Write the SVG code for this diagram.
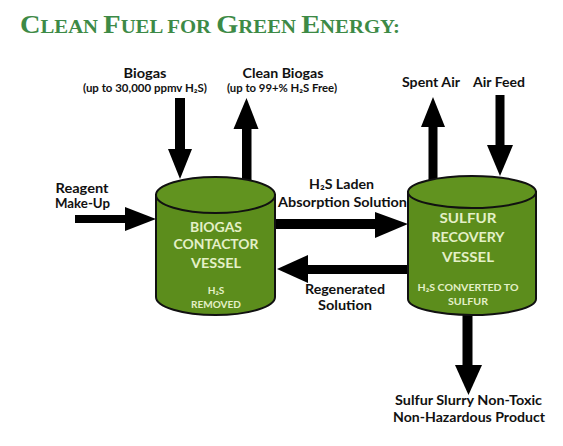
<svg xmlns="http://www.w3.org/2000/svg" width="563" height="446" viewBox="0 0 563 446">
<style>
.lbl{font-family:Lato,"Open Sans","DejaVu Sans",sans-serif;font-weight:700;fill:#111;text-anchor:middle}
.big{font-size:12.5px}
.sm{font-size:10.5px}
.cyl{fill:#5c8d1c;stroke:#111;stroke-width:2}
.top{fill:#61931f;stroke:#111;stroke-width:2}
.vt{font-family:Lato,"Open Sans","DejaVu Sans",sans-serif;font-weight:700;fill:#e4f0c8;text-anchor:middle}
.vb{font-size:14px}
.vs{font-size:10px}
.arr{fill:#000}
</style>
<rect width="563" height="446" fill="#fff"/>
<text x="20" y="33" textLength="380" lengthAdjust="spacingAndGlyphs" font-family="'Liberation Serif',serif" font-weight="700" fill="#3d8a46"><tspan font-size="26">C</tspan><tspan font-size="19">LEAN </tspan><tspan font-size="26">F</tspan><tspan font-size="19">UEL FOR </tspan><tspan font-size="26">G</tspan><tspan font-size="19">REEN </tspan><tspan font-size="26">E</tspan><tspan font-size="19">NERGY:</tspan></text>

<g id="connectors">
  <g id="biogas-in"><rect class="arr" x="175" y="98" width="10" height="53"/><polygon class="arr" points="168,149 192,149 180,179"/></g>
  <g id="clean-biogas-out"><rect class="arr" x="242" y="128" width="9.5" height="60"/><polygon class="arr" points="233.5,129 258.5,129 246.5,98"/></g>
  <g id="reagent-in"><rect class="arr" x="75" y="215" width="52" height="8"/><polygon class="arr" points="125,207 125,231 156,219"/></g>
  <g id="h2s-laden"><rect class="arr" x="270" y="219" width="107" height="10"/><polygon class="arr" points="375,212 375,238 408,224"/></g>
  <g id="regenerated"><rect class="arr" x="306" y="265" width="106" height="9"/><polygon class="arr" points="308,255 308,283 277,269"/></g>
  <g id="spent-air"><rect class="arr" x="428.5" y="125" width="9" height="65"/><polygon class="arr" points="421,127 445,127 433,97"/></g>
  <g id="air-feed"><rect class="arr" x="495.5" y="95" width="9" height="52"/><polygon class="arr" points="487,145 513,145 500,176"/></g>
  <g id="sulfur-out"><rect class="arr" x="462.5" y="300" width="10" height="67"/><polygon class="arr" points="455,365 482,365 468.5,395"/></g>
</g>

<g id="contactor">
  <path class="cyl" d="M156,195 L156,297 A59.5,18 0 0 0 275,297 L275,195 Z"/>
  <ellipse class="top" cx="215.5" cy="195" rx="59.5" ry="18"/>
  <text class="vt vb" x="216" y="232" textLength="52" lengthAdjust="spacingAndGlyphs">BIOGAS</text>
  <text class="vt vb" x="216" y="249" textLength="85" lengthAdjust="spacingAndGlyphs">CONTACTOR</text>
  <text class="vt vb" x="216" y="268" textLength="50" lengthAdjust="spacingAndGlyphs">VESSEL</text>
  <text class="vt vs" x="216" y="294">H₂S</text>
  <text class="vt vs" x="216" y="308" textLength="50" lengthAdjust="spacingAndGlyphs">REMOVED</text>
</g>

<g id="recovery">
  <path class="cyl" d="M408,192 L408,299 A64,16 0 0 0 536,299 L536,192 Z"/>
  <ellipse class="top" cx="472" cy="192" rx="64" ry="16"/>
  <text class="vt vb" x="468" y="223" textLength="57" lengthAdjust="spacingAndGlyphs">SULFUR</text>
  <text class="vt vb" x="468" y="242" textLength="73" lengthAdjust="spacingAndGlyphs">RECOVERY</text>
  <text class="vt vb" x="468" y="262" textLength="52" lengthAdjust="spacingAndGlyphs">VESSEL</text>
  <text class="vt vs" x="468" y="291" textLength="101" lengthAdjust="spacingAndGlyphs">H₂S CONVERTED TO</text>
  <text class="vt vs" x="468" y="305" textLength="40" lengthAdjust="spacingAndGlyphs">SULFUR</text>
</g>

<g id="labels">
  <text class="lbl big" x="145" y="78" textLength="43" lengthAdjust="spacingAndGlyphs">Biogas</text>
  <text class="lbl sm" x="145" y="92" textLength="124" lengthAdjust="spacingAndGlyphs">(up to 30,000 ppmv H₂S)</text>
  <text class="lbl big" x="283" y="78" textLength="81" lengthAdjust="spacingAndGlyphs">Clean Biogas</text>
  <text class="lbl sm" x="282" y="92" textLength="110" lengthAdjust="spacingAndGlyphs">(up to 99+% H₂S Free)</text>
  <text class="lbl big" x="82" y="193" textLength="53" lengthAdjust="spacingAndGlyphs">Reagent</text>
  <text class="lbl big" x="82.5" y="208" textLength="55" lengthAdjust="spacingAndGlyphs">Make-Up</text>
  <text class="lbl big" x="341.5" y="189" textLength="65" lengthAdjust="spacingAndGlyphs">H₂S Laden</text>
  <text class="lbl big" x="342.5" y="207" textLength="129" lengthAdjust="spacingAndGlyphs">Absorption Solution</text>
  <text class="lbl big" x="345" y="294" textLength="80" lengthAdjust="spacingAndGlyphs">Regenerated</text>
  <text class="lbl big" x="345" y="310" textLength="54" lengthAdjust="spacingAndGlyphs">Solution</text>
  <text class="lbl big" x="431" y="87" textLength="58" lengthAdjust="spacingAndGlyphs">Spent Air</text>
  <text class="lbl big" x="499" y="87" textLength="52" lengthAdjust="spacingAndGlyphs">Air Feed</text>
  <text class="lbl big" x="468.5" y="405" textLength="147" lengthAdjust="spacingAndGlyphs">Sulfur Slurry Non-Toxic</text>
  <text class="lbl big" x="469" y="422" textLength="152" lengthAdjust="spacingAndGlyphs">Non-Hazardous Product</text>
</g>
</svg>
